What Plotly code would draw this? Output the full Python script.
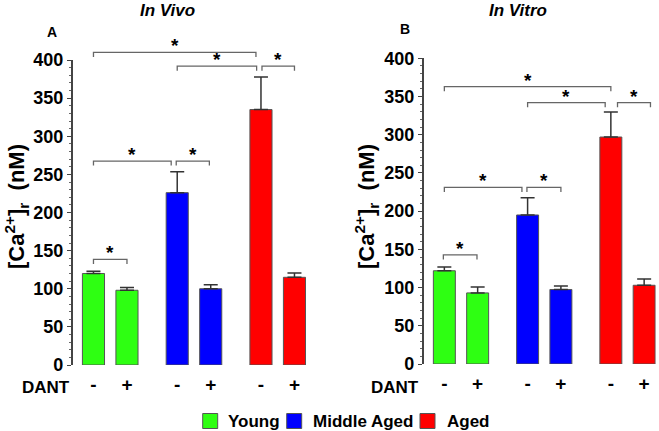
import plotly.graph_objects as go

# ---------------- data ----------------
groups = ["Young", "Middle Aged", "Aged"]
dant_labels = ["-", "+", "-", "+", "-", "+"]

vivo_young = [120, 98]
vivo_middle = [226, 100]
vivo_aged = [335, 115]
vivo_young_err = [3, 3.5]
vivo_middle_err = [27.5, 5.3]
vivo_aged_err = [42.7, 5.5]

vitro_young = [122, 93]
vitro_middle = [195, 97.5]
vitro_aged = [297, 103]
vitro_young_err = [4.8, 7.8]
vitro_middle_err = [22.6, 4.4]
vitro_aged_err = [32.7, 8.3]

y_ticks = [0, 50, 100, 150, 200, 250, 300, 350, 400]

# significance brackets: (bar i, bar j, height)
vivo_sig = [(0, 4, 410), (2, 4, 392), (4, 5, 392), (0, 2, 267.5), (2, 3, 267.5), (0, 1, 138.6)]
vitro_sig = [(0, 4, 363), (2, 4, 342), (4, 5, 342), (0, 2, 231), (2, 3, 231), (0, 1, 142.7)]

# ---------------- layout params ----------------
W, H = 659, 431
bar_pos = [0, 1, 2.5, 3.5, 5, 6]
colors = ["#2eff12", "#0000ff", "#ff0000"]
xr = [-0.62, 6.35]
# bracket end gaps (left, right) in x units
vivo_gaps = [(0, -0.15), (0, -0.13), (0.03, 0), (0, -0.18), (-0.03, -0.04), (0, 0)]
vitro_gaps = [(0, 0), (0, -0.17), (0.2, 0.19), (0, -0.17), (-0.02, 0), (-0.03, -0.02)]
# legend layout (pixel positions of swatch left edges and text left edges)
legend_swatch_px = [202.7, 286.7, 420]
legend_text_px = [226, 310.7, 445]
legend_y_px = 421
swatch = 15

def fx(px):
    return px / W

def fy(py):
    return (H - py) / H

panels = [
    dict(name="vivo", xa="x", ya="y", ya_b="y3", xdom=[fx(72.7), fx(306.2)], ydom=[fy(365), fy(60)],
         vals=[vivo_young, vivo_middle, vivo_aged], errs=[vivo_young_err, vivo_middle_err, vivo_aged_err],
         sig=vivo_sig, gaps=vivo_gaps),
    dict(name="vitro", xa="x2", ya="y2", ya_b="y4", xdom=[fx(423.7), fx(655.8)], ydom=[fy(364), fy(58.3)],
         vals=[vitro_young, vitro_middle, vitro_aged], errs=[vitro_young_err, vitro_middle_err, vitro_aged_err],
         sig=vitro_sig, gaps=vitro_gaps),
]

FONT = "Liberation Sans, Arial, sans-serif"
fig = go.Figure()
annotations = []
shapes = []
layout_axes = {}
btop = 0.995
tick_d = 6  # bracket end tick depth (data units)

for k, p in enumerate(panels):
    for g in range(3):
        xs = bar_pos[2 * g:2 * g + 2]
        fig.add_trace(go.Bar(
            x=xs, y=p["vals"][g], width=0.66, name=groups[g], legendgroup=groups[g],
            showlegend=False, xaxis=p["xa"], yaxis=p["ya"],
            marker=dict(color=colors[g], line=dict(color="#555555", width=1)),
            error_y=dict(type="data", array=p["errs"][g], arrayminus=[0, 0], symmetric=False,
                         color="#333333", thickness=1.5, width=7),
        ))
    # brackets
    bx, by = [], []
    for (i, j, h), (gl, gr) in zip(p["sig"], p["gaps"]):
        x0 = bar_pos[i] + gl
        x1 = bar_pos[j] + gr
        bx += [x0, x0, x1, x1, None]
        by += [h - tick_d, h, h, h - tick_d, None]
        annotations.append(dict(x=(x0 + x1) / 2, y=h, xref=p["xa"], yref=p["ya_b"], text="*",
                                showarrow=False, yanchor="bottom", yshift=-6,
                                font=dict(family=FONT, size=19, color="black", weight="bold")))
    fig.add_trace(go.Scatter(x=bx, y=by, mode="lines", xaxis=p["xa"], yaxis=p["ya_b"],
                             line=dict(color="#666666", width=1.3), showlegend=False, hoverinfo="skip"))

    d0, d1 = p["ydom"]
    xkey = "xaxis" if k == 0 else "xaxis2"
    ykey = "yaxis" if k == 0 else "yaxis2"
    ybkey = "yaxis3" if k == 0 else "yaxis4"
    layout_axes[xkey] = dict(domain=p["xdom"], range=xr, anchor=p["ya"], showline=False, showgrid=False,
                             zeroline=False, ticks="", tickvals=bar_pos, ticktext=dant_labels,
                             automargin=False, ticklabelstandoff=6,
                             tickfont=dict(family=FONT, size=19, color="black", weight="bold"))
    layout_axes[ykey] = dict(domain=[d0, d1], range=[0, 400], anchor=p["xa"], showline=True,
                             linecolor="#444444", linewidth=1.5, showgrid=False, zeroline=False,
                             ticks="outside", ticklen=4, tickwidth=1.3, tickcolor="#444444",
                             tickvals=y_ticks, automargin=False,
                             minor=dict(dtick=10, ticks="outside", ticklen=2, tickwidth=1, tickcolor="#666666"),
                             tickfont=dict(family=FONT, size=18, color="black", weight="bold"))
    layout_axes[ybkey] = dict(domain=[d0, btop], range=[0, 400 * (btop - d0) / (d1 - d0)],
                              anchor=p["xa"], visible=False, showgrid=False, zeroline=False,
                              automargin=False)

text_items = [
    ("<i>In Vivo</i>", 167, 10, "center", 0, 17),
    ("<i>In Vitro</i>", 517.7, 10, "center", 0, 17),
    ("A", 51.7, 32, "center", 0, 14),
    ("B", 405, 29, "center", 0, 14),
    ("[Ca<sup>2+</sup>]<sub>r</sub>  (nM)", 16, 207, "center", -90, 22),
    ("[Ca<sup>2+</sup>]<sub>r</sub>  (nM)", 366, 207, "center", -90, 22),
    ("DANT", 72, 387, "right", 0, 17),
    ("DANT", 420.7, 387, "right", 0, 17),
]
for t, x, y, xa, ang, sz in text_items:
    annotations.append(dict(text=t, x=fx(x), y=fy(y), xref="paper", yref="paper", xanchor=xa,
                            yanchor="middle", showarrow=False, textangle=ang,
                            font=dict(family=FONT, size=sz, color="black", weight="bold")))

# legend (drawn as swatches + labels)
for g in range(3):
    sx = legend_swatch_px[g]
    shapes.append(dict(type="rect", xref="paper", yref="paper",
                       x0=fx(sx), x1=fx(sx + swatch),
                       y0=fy(legend_y_px + swatch / 2), y1=fy(legend_y_px - swatch / 2),
                       fillcolor=colors[g], line=dict(color="#555555", width=1)))
    annotations.append(dict(text=groups[g], x=fx(legend_text_px[g]), y=fy(legend_y_px), xref="paper",
                            yref="paper", xanchor="left", yanchor="middle", showarrow=False,
                            font=dict(family=FONT, size=17, color="black", weight="bold")))

fig.update_layout(
    template="none",
    width=W, height=H, margin=dict(l=0, r=0, t=0, b=0, pad=0, autoexpand=False),
    paper_bgcolor="white", plot_bgcolor="rgba(0,0,0,0)", barmode="overlay",
    showlegend=False,
    annotations=annotations,
    shapes=shapes,
    **layout_axes,
)

fig.write_html("out.html", config={"displayModeBar": False},
               post_script="document.body.style.margin='0';document.body.style.overflow='hidden';")
